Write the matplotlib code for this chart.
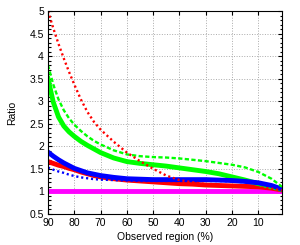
"""
Ratio vs observed region, recreated from reference picture.
"""

import matplotlib
matplotlib.use("Agg")
import matplotlib.pyplot as plt
from matplotlib.ticker import MultipleLocator, FormatStrFormatter

plt.rcParams["font.family"] = ["Liberation Sans", "DejaVu Sans"]

# observed region (%)
observed = [90, 88, 86, 84, 82, 80, 77.5, 75, 72.5, 70, 65, 60, 55, 50,
            45, 40, 35, 30, 25, 20, 15, 10, 5, 1]

red_solid = [1.66, 1.62, 1.58, 1.55, 1.51, 1.48, 1.43, 1.39, 1.35, 1.32, 1.28, 1.25,
             1.23, 1.21, 1.19, 1.17, 1.16, 1.14, 1.13, 1.12, 1.11, 1.10, 1.07, 1.03]
red_dotted = [5.0, 4.62, 4.27, 3.95, 3.65, 3.37, 3.04, 2.76, 2.54, 2.37, 2.1, 1.86,
              1.67, 1.5, 1.35, 1.25, 1.2, 1.16, 1.14, 1.12, 1.11, 1.09, 1.06, 1.02]
green_solid = [3.5, 2.98, 2.65, 2.45, 2.32, 2.22, 2.11, 2.02, 1.94, 1.86, 1.74, 1.66,
               1.62, 1.59, 1.56, 1.52, 1.48, 1.44, 1.39, 1.32, 1.25, 1.17, 1.10, 1.04]
green_dashed = [3.8, 3.37, 3.04, 2.8, 2.62, 2.48, 2.34, 2.22, 2.12, 2.04, 1.91, 1.82,
                1.78, 1.76, 1.75, 1.73, 1.70, 1.67, 1.63, 1.59, 1.53, 1.43, 1.28, 1.10]
blue_solid = [1.87, 1.78, 1.70, 1.63, 1.57, 1.51, 1.46, 1.41, 1.38, 1.35, 1.31, 1.28,
              1.27, 1.26, 1.26, 1.26, 1.26, 1.26, 1.25, 1.24, 1.22, 1.19, 1.13, 1.05]
blue_dotted = [1.53, 1.48, 1.44, 1.41, 1.37, 1.34, 1.31, 1.29, 1.27, 1.26, 1.25, 1.24,
               1.23, 1.23, 1.23, 1.23, 1.23, 1.23, 1.23, 1.22, 1.20, 1.17, 1.12, 1.05]
baseline = [1.0] * len(observed)

fig = plt.figure(figsize=(3.0, 2.45), dpi=100)
ax = fig.add_axes([0.16, 0.127, 0.78, 0.828])

ax.plot(observed, baseline, "-", color="#ff00ff", linewidth=3.5)
ax.plot(observed, red_solid, "-", color="#ff0000", linewidth=3.5)
ax.plot(observed, green_solid, "-", color="#00ff00", linewidth=3.5)
ax.plot(observed, blue_solid, "-", color="#0000ff", linewidth=3.5)
ax.plot(observed, green_dashed, color="#00ff00", linewidth=1.7, linestyle=(0, (1.8, 1.0)))
ax.plot(observed, blue_dotted, color="#0000ff", linewidth=1.7, linestyle=(0, (0.9, 1.2)))
ax.plot(observed, red_dotted, color="#ff0000", linewidth=1.7, linestyle=(0, (0.9, 1.2)))

ax.set_xlim(90, 1)
ax.set_ylim(0.5, 5)
ax.set_xticks([90, 80, 70, 60, 50, 40, 30, 20, 10])
ax.yaxis.set_major_locator(MultipleLocator(0.5))
ax.yaxis.set_minor_locator(MultipleLocator(0.1))
ax.yaxis.set_major_formatter(FormatStrFormatter("%g"))
ax.tick_params(direction="in", which="both", top=True, right=True, labelsize=7.5,
               length=3, width=0.8, pad=3)
ax.tick_params(which="minor", length=1.8)
ax.grid(True, which="major", color="#aaaaaa", linestyle=":", linewidth=0.7)
ax.set_axisbelow(True)
for s in ax.spines.values():
    s.set_linewidth(0.8)

ax.set_xlabel("Observed region (%)", fontsize=7.5, labelpad=3)
ax.set_ylabel("Ratio", fontsize=7.5, labelpad=9)

plt.savefig("out.png", dpi=100)
